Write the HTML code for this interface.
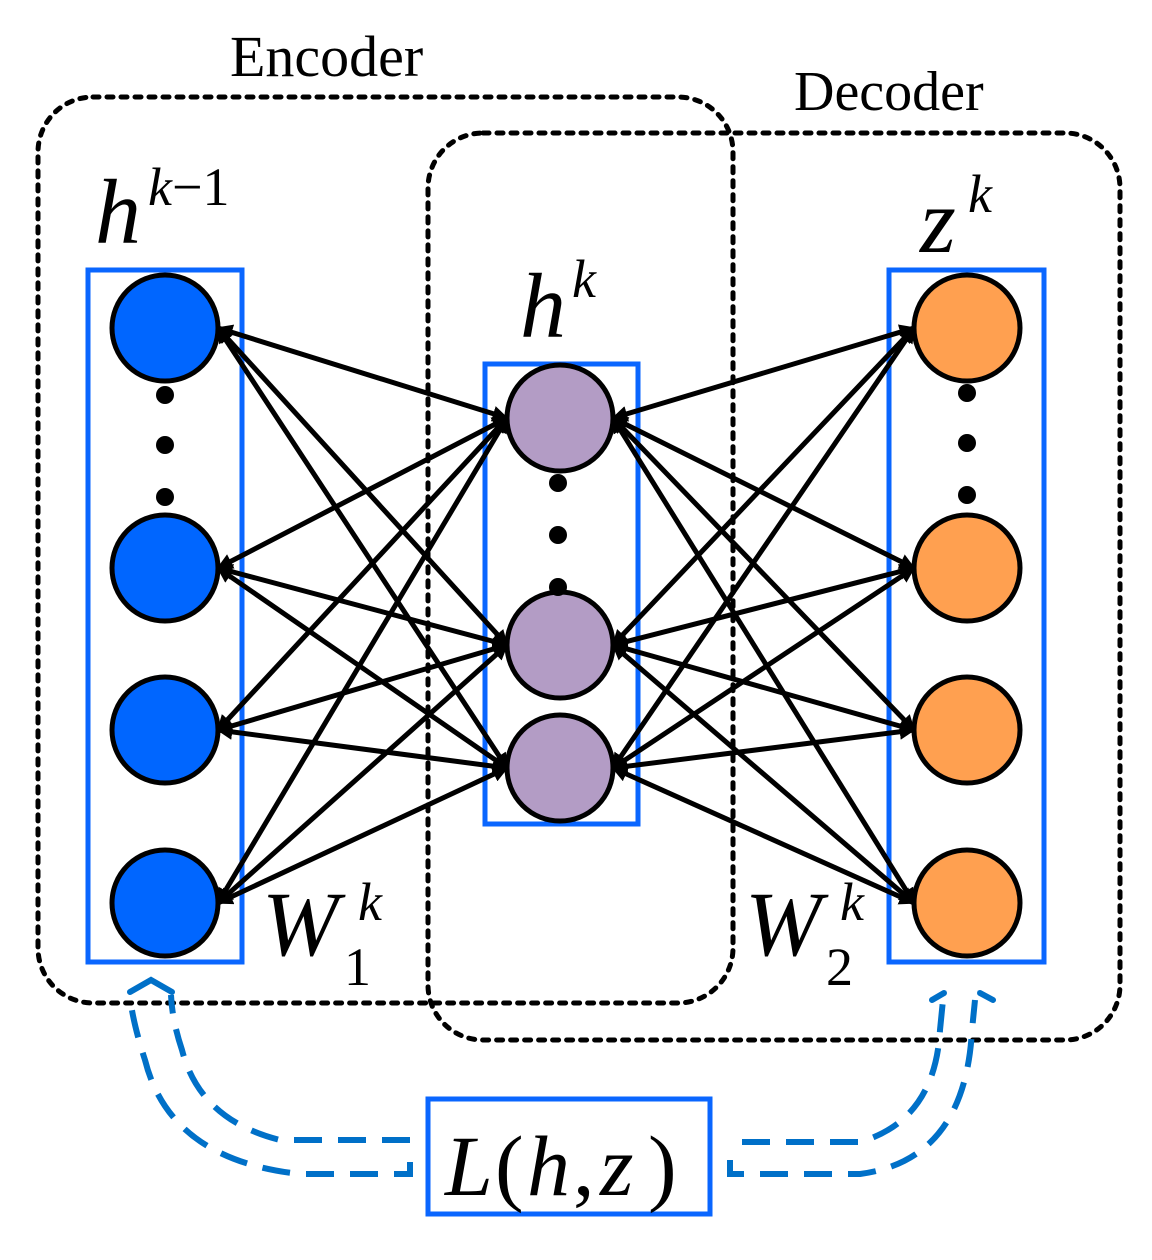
<!DOCTYPE html>
<html><head><meta charset="utf-8">
<style>
html,body{margin:0;padding:0;background:#fff;}
svg{display:block;}
text{font-family:"Liberation Serif",serif;}
</style></head>
<body>
<svg id="s" width="1152" height="1260" viewBox="0 0 1152 1260" xmlns="http://www.w3.org/2000/svg">
<defs>
<marker id="ah" viewBox="0 0 10 10" refX="9" refY="5" markerWidth="3.2" markerHeight="3.2" orient="auto-start-reverse" markerUnits="strokeWidth">
<path d="M0,0 L10,5 L0,10 z" fill="#000"/>
</marker>
</defs>
<rect x="38" y="97" width="695" height="906" rx="55" fill="none" stroke="#000" stroke-width="5" stroke-dasharray="6 8" stroke-linecap="round"/>
<rect x="428" y="133" width="692" height="907" rx="55" fill="none" stroke="#000" stroke-width="5" stroke-dasharray="6 8" stroke-linecap="round"/>
<rect x="88" y="270" width="154" height="692" fill="none" stroke="#0a66ff" stroke-width="5"/>
<rect x="485" y="364" width="153" height="460" fill="none" stroke="#0a66ff" stroke-width="5"/>
<rect x="889" y="270" width="155" height="692" fill="none" stroke="#0a66ff" stroke-width="5"/>
<g id="edges" stroke="#000" stroke-width="5" fill="none"></g>
<g id="nodes" stroke="#000" stroke-width="5"></g>
<g fill="#000">
<circle cx="165" cy="395" r="9"/><circle cx="165" cy="445" r="9"/><circle cx="165" cy="497" r="9"/>
<circle cx="558" cy="483" r="9"/><circle cx="558" cy="535" r="9"/><circle cx="558" cy="587" r="9"/>
<circle cx="967" cy="393" r="9"/><circle cx="967" cy="443" r="9"/><circle cx="967" cy="495" r="9"/>
</g>
<text x="230" y="76" font-size="58">Encoder</text>
<text x="794" y="110" font-size="56">Decoder</text>
<text x="95" y="243" font-size="92" font-style="italic">h</text>
<text x="148" y="205" font-size="54" font-style="italic">k</text>
<text x="172" y="205" font-size="54">−1</text>
<text x="520" y="337" font-size="92" font-style="italic">h</text>
<text x="572" y="297" font-size="54" font-style="italic">k</text>
<text x="920" y="252" font-size="92" font-style="italic">z</text>
<text x="968" y="212" font-size="54" font-style="italic">k</text>
<text x="262" y="955" font-size="92" font-style="italic">W</text>
<text x="358" y="920" font-size="54" font-style="italic">k</text>
<text x="344" y="985" font-size="54">1</text>
<text x="745" y="955" font-size="92" font-style="italic">W</text>
<text x="840" y="920" font-size="54" font-style="italic">k</text>
<text x="826" y="985" font-size="54">2</text>
<rect x="428" y="1099" width="282" height="115" fill="none" stroke="#0a66ff" stroke-width="5"/>
<text x="445" y="1195" font-size="86" font-style="italic">L</text>
<text x="495" y="1195" font-size="86">(</text>
<text x="527" y="1195" font-size="86" font-style="italic">h</text>
<text x="573" y="1195" font-size="86">,</text>
<text x="600" y="1195" font-size="86" font-style="italic">z</text>
<text x="648" y="1195" font-size="86">)</text>
<g fill="none" stroke="#0070c8" stroke-width="6" stroke-dasharray="28 16">
<path d="M410,1162 L410,1174 L300,1174 Q170,1160 145,1060 Q132,1020 130,995"/>
<path d="M410,1140 L280,1140 Q200,1120 182,1050 Q172,1020 171,995"/>
<path d="M742,1142 L860,1142 Q935,1120 940,1030 L943,1000"/>
<path d="M730,1160 L730,1174 L860,1174 Q965,1160 972,1030 L975,1000"/>
</g>
<g fill="none" stroke="#0070c8" stroke-width="6" stroke-linecap="round">
<path d="M130,992 L151,980 L172,992"/>
<path d="M932,1000 L944,993"/>
<path d="M980,993 L993,1000"/>
</g>
</svg>
<script>
(function(){
var ns="http://www.w3.org/2000/svg";
var L=[[165,328],[165,568],[165,730],[165,903]];
var M=[[560,418],[560,645],[560,768]];
var R=[[967,328],[967,568],[967,730],[967,903]];
var r=53;
var E=document.getElementById("edges"),N=document.getElementById("nodes");
function line(a,b){
 var x1=a[0]+r,x2=b[0]-r;
 var l=document.createElementNS(ns,"line");
 l.setAttribute("x1",x1);l.setAttribute("y1",a[1]);
 l.setAttribute("x2",x2);l.setAttribute("y2",b[1]);
 l.setAttribute("marker-start","url(#ah)");l.setAttribute("marker-end","url(#ah)");
 E.appendChild(l);
}
L.forEach(function(a){M.forEach(function(b){line(a,b);});});
M.forEach(function(a){R.forEach(function(b){line(a,b);});});
function circ(p,c){var e=document.createElementNS(ns,"circle");e.setAttribute("cx",p[0]);e.setAttribute("cy",p[1]);e.setAttribute("r",53);e.setAttribute("fill",c);N.appendChild(e);}
L.forEach(function(p){circ(p,"#0066ff");});
M.forEach(function(p){circ(p,"#b39cc5");});
R.forEach(function(p){circ(p,"#ffa050");});
})();
</script>
</body></html>
